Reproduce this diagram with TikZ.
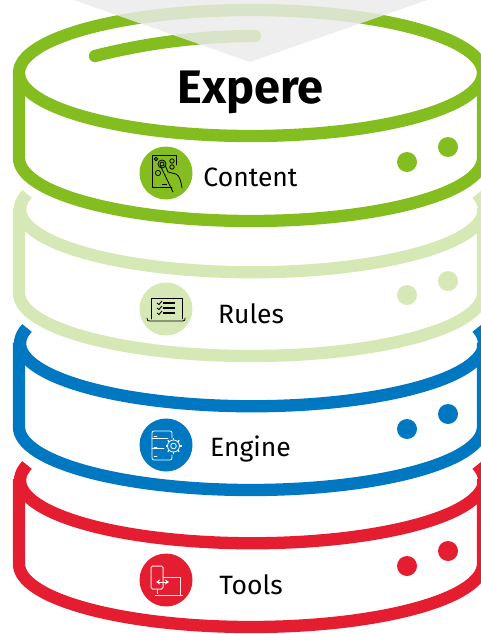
\documentclass[tikz,border=0pt]{standalone}
\usepackage{fontspec}
\setmainfont{Fira Sans}
\usetikzlibrary{arrows.meta}
\definecolor{contentgreen}{HTML}{84BD20}
\definecolor{rulesgreen}{HTML}{D5E8B5}
\definecolor{engineblue}{HTML}{0078C1}
\definecolor{toolsred}{HTML}{E41E30}
\tikzset{
	band/.style={line width=12.3pt, line join=round},
	label/.style={font=\fontsize{26.5}{30}\selectfont, inner sep=0pt, anchor=base},
	thinline/.style={line width=0.8pt, line cap=round, line join=round},
}
\begin{document}
\begin{tikzpicture}[x=1pt, y=-1pt]
	\useasboundingbox (0,0) rectangle (481,634);
	\clip (0,0) rectangle (481,634);

	% tools layer
	\draw [band, toolsred] (27,465) arc [start angle=166, end angle=374, x radius=232pt, y radius=63pt];
	\draw [band, toolsred] (19,479) -- (19,564) arc [start angle=180, end angle=360, x radius=232pt, y radius=63pt] -- (483,479);
	% engine layer
	\draw [band, engineblue] (27,328) arc [start angle=166, end angle=374, x radius=232pt, y radius=63pt];
	\draw [band, engineblue] (19,342.5) -- (19,427) arc [start angle=180, end angle=360, x radius=232pt, y radius=63pt] -- (483,342.5);
	% rules layer
	\draw [band, rulesgreen] (27,194) arc [start angle=166, end angle=374, x radius=232pt, y radius=63pt];
	\draw [band, rulesgreen] (19,208) -- (19,293) arc [start angle=180, end angle=360, x radius=232pt, y radius=63pt] -- (483,208);
	% content layer
	\draw [band, contentgreen] (251,73) ellipse [x radius=232pt, y radius=63pt];
	\draw [band, contentgreen] (19,73) -- (19,158) arc [start angle=180, end angle=360, x radius=232pt, y radius=63pt] -- (483,73);
	\draw [band, contentgreen, line cap=round] (95,56) .. controls (150,42) and (205,36) .. (255,36);

	% funnel over the top
	\fill [black!8, fill opacity=0.83] (68,-2) -- (250,62) -- (433,-2) -- cycle;

	\node [font=\fontsize{47}{50}\selectfont\bfseries, inner sep=0pt, anchor=base] (title) at (250.5,103) {Expere};

	% dots
	\fill [contentgreen] (407,162) circle [radius=10pt] (448,147) circle [radius=10pt];
	\fill [rulesgreen] (407,295) circle [radius=10pt] (448,281) circle [radius=10pt];
	\fill [engineblue] (407,429) circle [radius=10pt] (448,414) circle [radius=10pt];
	\fill [toolsred] (407,566) circle [radius=10pt] (448,551) circle [radius=10pt];

	% labels
	\node [label] (content) at (250.5,186) {Content};
	\node [label] (rules) at (251,323) {Rules};
	\node [label] (engine) at (250.5,456) {Engine};
	\node [label] (tools) at (251,594) {Tools};

	% content icon
	\fill [contentgreen] (166,173) circle [radius=26.5pt];
	\draw [thinline] (176,165) -- (176,155) -- (152,155) -- (152,187) -- (172,187);
	\draw [thinline] (156,159) circle [radius=1.8pt] (172,161) circle [radius=2.2pt] (172,167) circle [radius=2.2pt] (158,173) circle [radius=2.6pt];
	\draw [thinline] (162,164) circle [radius=2pt] (162,164) circle [radius=4pt];
	\draw [line width=1.2pt] (162,184.5) -- (167,184.5);
	\draw [thinline] (160,165) -- (173,192);
	\draw [thinline] (165,165) -- (168,172) -- (176,174) .. controls (180,176) and (181,182) .. (182,188);

	% rules icon
	\fill [rulesgreen] (166,309) circle [radius=26.5pt];
	\draw [thinline] (151,319) -- (151,298) -- (182,298) -- (182,319);
	\draw [thinline] (147,318) .. controls (147,321) and (148,321) .. (150,321) -- (183,321) .. controls (185,321) and (185,320) .. (185,318);
	\foreach \yy in {303,308,313}{
		\draw [line width=1.5pt] (163,\yy) -- (175,\yy);
		\draw [line width=0.9pt] (157,\yy) -- (159,\yy+1.5) -- (162,\yy-2);
	}

	% engine icon
	\fill [engineblue] (166,445) circle [radius=26.5pt];
	\draw [thinline, white, rounded corners=2pt] (172,438) -- (172,431) -- (152,431) -- (152,460) -- (172,460) -- (172,455);
	\draw [thinline, white] (152,438.5) -- (168,438.5) (152,448) -- (164,448);
	\draw [thinline, white] (154,447) -- (157,447) (154,436) -- (157,436) (154,456) -- (157,456);
	\draw [thinline, white, fill=engineblue] (173.5,446) circle [radius=6pt];
	\draw [thinline, white] (173.5,446) circle [radius=2.8pt];
	\foreach \ang in {0,45,...,315}{
		\draw [line width=1.3pt, white, shift={(173.5,446)}] (\ang:6) -- (\ang:8);
	}

	% tools icon
	\fill [toolsred] (166,580) circle [radius=26.5pt];
	\draw [line width=1pt, white!90!toolsred] (163,577) -- (180,577) -- (180,595);
	\draw [line width=1pt, white!90!toolsred] (155,595) -- (183,595);
	\draw [line width=1pt, white!90!toolsred, rounded corners=1.5pt] (151,566) rectangle (163,589);
	\draw [line width=1pt, white!90!toolsred] (157,589) -- (157,594);
	\draw [line width=1pt, white, {Stealth[length=4pt,width=5pt]}-{Stealth[length=4pt,width=5pt]}] (156,582) -- (169,582);
\end{tikzpicture}
\end{document}
